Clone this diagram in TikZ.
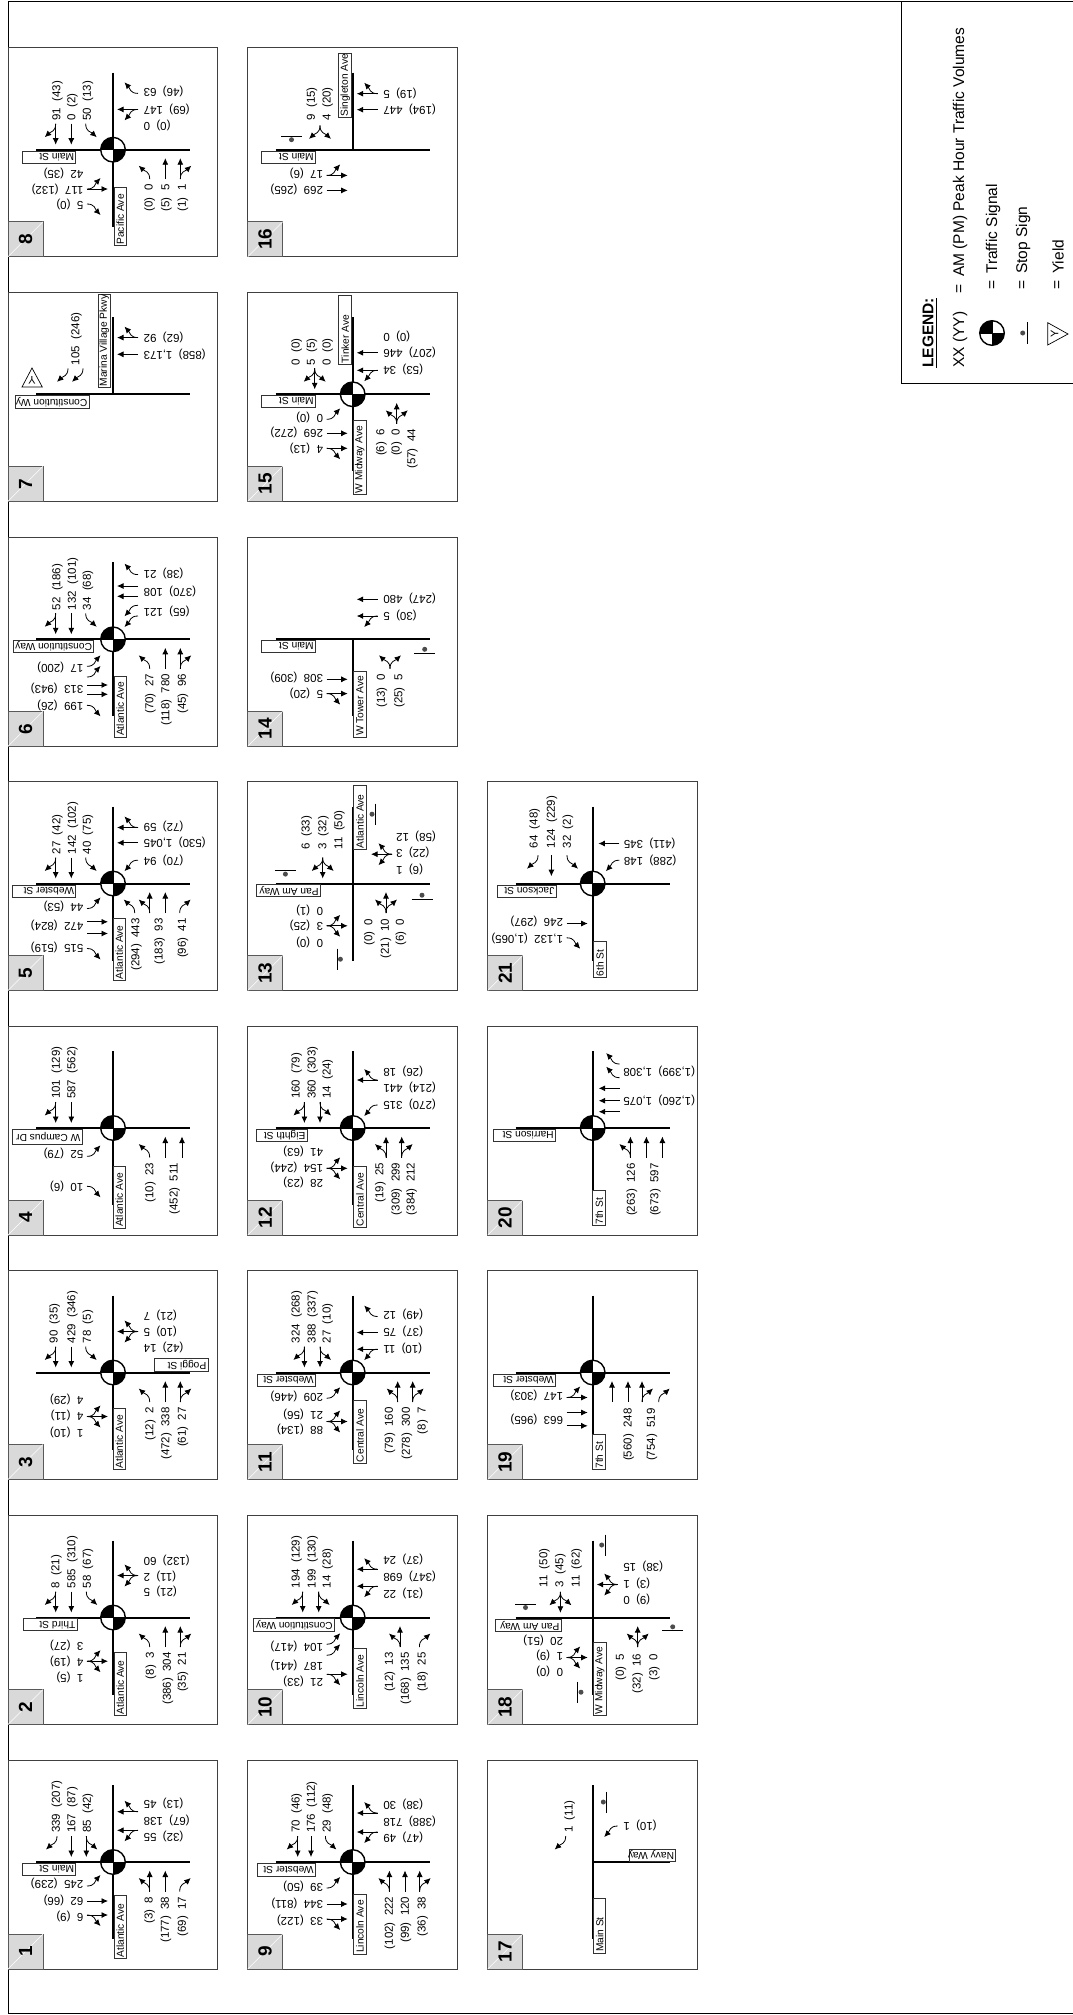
\documentclass[tikz,border=0pt]{standalone}
\usepackage{fontspec}
\setmainfont{Liberation Sans}
\usetikzlibrary{arrows.meta,calc}
\tikzset{
  pbox/.style={draw=black!75,line width=1pt,fill=white},
  tabbox/.style={draw=black!65,line width=1pt,fill=black!15},
  road/.style={line width=2pt,black},
  mvl/.style={line width=.8pt,-{Latex[length=6.5pt,width=6pt]}},
  vol/.style={inner sep=0pt,font=\fontsize{11.5}{12}\selectfont},
  streetbox/.style={draw=black!80,line width=.8pt,fill=white},
  streettext/.style={inner sep=0pt,font=\fontsize{10.2}{12}\selectfont},
  legtext/.style={inner sep=0pt,rotate=90,anchor=west,font=\fontsize{15.5}{17}\selectfont},
}
\def\mvT{\draw[mvl] (0,0) -- (21,0);}
\def\mvR{\draw[mvl] (0,0) .. controls (8,0) and (8,5) .. (13.5,11);}
\def\mvL{\draw[mvl] (0,0) .. controls (8,0) and (8,-5) .. (13.5,-11);}
\newcommand\lane[4]{\begin{scope}[shift={(#1,#2)},rotate=#3]\foreach \mvk in {#4}{\csname mv\mvk\endcsname}\end{scope}}
\newcommand\lanA[3][-26]{\lane{#2}{#1}{-90}{#3}}
\newcommand\lanB[3][25]{\lane{#1}{#2}{180}{#3}}
\newcommand\lanC[3][29.5]{\lane{#2}{#1}{90}{#3}}
\newcommand\lanD[3][-26]{\lane{#1}{#2}{0}{#3}}
\newcommand\labA[4][-29]{\node[vol,rotate=90,anchor=west] at (#2,#1) {#3~~(#4)};}
\newcommand\labB[4][30.5]{\node[vol,rotate=180,anchor=east] at (#1,#2) {(#4)~~#3};}
\newcommand\labC[4][34.5]{\node[vol,rotate=90,anchor=east] at (#2,#1) {(#4)~~#3};}
\newcommand\labD[4][-29.5]{\node[vol,rotate=180,anchor=west] at (#1,#2) {#3~~(#4)};}
% horizontal street tag (upside down), vertical street tag
\newcommand\stH[5]{\draw[streetbox] (#1,#3) rectangle (#2,#4);\node[streettext,rotate=180,anchor=west] at ($(#2,#3)!.5!(#2,#4)+(-1.5,0)$) {#5};}
\newcommand\stV[5]{\draw[streetbox] (#1,#3) rectangle (#2,#4);\node[streettext,rotate=90,anchor=west] at ($(#1,#4)!.5!(#2,#4)+(0,-1)$) {#5};}
\newcommand\roadH[2]{\draw[road] (#1,0) -- (#2,0);}
\newcommand\roadV[2]{\draw[road] (0,#1) -- (0,#2);}
\newcommand\crossroad{\roadH{-77}{77}\roadV{-77}{77}}
\newcommand\signal{%
  \fill[white] (0,0) circle (12.3);
  \fill[black] (0,0) -- (12.3,0) arc[start angle=0,end angle=90,radius=12.3] -- cycle;
  \fill[black] (0,0) -- (-12.3,0) arc[start angle=180,end angle=270,radius=12.3] -- cycle;
  \draw[white,line width=.4pt] (1.5,-3) -- (3.5,-9) -- (5.5,-3) -- (7.5,-9) -- (9.5,-4);
  \draw[white,line width=.4pt] (-1.5,3) -- (-3.5,9) -- (-5.5,3) -- (-7.5,9) -- (-9.5,4);
  \draw[black,line width=1.4pt] (0,0) circle (12.3);
  \draw[black,line width=1pt] (-12.3,0) -- (12.3,0) (0,-12.3) -- (0,12.3);}
\newcommand\stpH[3]{\draw[black,line width=1pt] (#1-10.5,#2) -- (#1+10.5,#2);\fill[black!70] (#1,#2+#3) circle (2.5);}
\newcommand\stpV[3]{\draw[black,line width=1pt] (#1,#2-10.5) -- (#1,#2+10.5);\fill[black!70] (#1+#3,#2) circle (2.5);}
\newcommand\pnl[4]{%
  \begin{scope}[shift={(#1,#2)}]
    \draw[pbox] (0,0) rectangle (209.5,209);
    \draw[tabbox] (0,174) rectangle (35,209);
    \draw[white,line width=.5pt] (0,209) -- (35,174);
    \node[inner sep=0pt,rotate=90,font=\bfseries\fontsize{19}{20}\selectfont] at (17.5,191.5) {#3};
    \begin{scope}[shift={(105,102)}]#4\end{scope}
  \end{scope}}
\begin{document}
\begin{tikzpicture}[x=1pt,y=-1pt]
\useasboundingbox (0,0) rectangle (1073,2015);
\fill[white] (0,0) rectangle (1073,2015);
% page frame
\draw[black,line width=1pt] (1074,1.2) -- (8,1.2) -- (8,2013) -- (1074,2013);
% legend
\draw[black,line width=1pt] (1074,2) -- (901.7,2) -- (901.7,383) -- (1074,383);
\node[legtext,font=\bfseries\fontsize{15.5}{17}\selectfont] (lg) at (928,368) {LEGEND:};
\draw[black,line width=1pt] (936,368) -- (936,298);
\node[legtext] (xx) at (960,368) {XX (YY)};
\node[legtext] (eq1) at (960,294) {=};
\node[legtext] (am) at (960,277) {AM (PM) Peak Hour Traffic Volumes};
\node[legtext] (eq2) at (993,290) {=};
\node[legtext] (ts) at (993,274) {Traffic Signal};
\node[legtext] (eq3) at (1023,290) {=};
\node[legtext] (ss) at (1023,274) {Stop Sign};
\node[legtext] (eq4) at (1058,290) {=};
\node[legtext] (yl) at (1058,274) {Yield};
\begin{scope}[shift={(992,333)}]\signal\end{scope}
\draw[black,line width=1pt] (1027,322) -- (1027,344);
\fill[black!70] (1022.7,333) circle (2.5);
\draw[black,line width=.7pt] (1047.7,322.7) -- (1047.7,345) -- (1068,334) -- cycle;
\node[inner sep=0pt,rotate=90,font=\fontsize{11}{12}\selectfont] at (1054.5,334) {Y};

% ---- column 1
\pnl{8}{1760}{1}{\crossroad\signal
 \labA{-56}{339}{207}\labA{-40.7}{167}{87}\labA{-25}{85}{42}
 \lanA{-56}{R}\lanA{-41.7}{T}\lanA{-26.7}{T,L}
 \labB{-58.3}{45}{13}\labB{-42}{138}{67}\labB{-25.3}{55}{32}
 \lanB{-50.3}{T,R}\lanB{-31.7}{T,L}
 \labC{36.7}{8}{3}\labC{53}{38}{177}\labC{70}{17}{69}
 \lanC{36.7}{T,L}\lanC{52.3}{T}\lanC{66.7}{R}
 \labD{21.7}{245}{239}\labD{38}{62}{66}\labD{54}{6}{9}
 \lanD{24}{L}\lanD{39}{T}\lanD{53}{T,R}
 \stH{-91}{-37.3}{1}{13}{Main St}\stV{1}{13.3}{33.3}{96.7}{Atlantic Ave}}
\pnl{8}{1515.5}{2}{\crossroad\signal
 \labA{-56.7}{8}{21}\labA{-40.7}{585}{310}\labA{-25}{58}{67}
 \lanA{-57.3}{T,R}\lanA{-41.7}{T}\lanA{-26.7}{L}
 \labB{-57.3}{60}{132}\labB{-41.3}{2}{11}\labB{-25.7}{5}{21}
 \lanB{-42}{L,T,R}
 \labC{38}{3}{8}\labC{55}{304}{386}\labC{70}{21}{35}
 \lanC{36.7}{L}\lanC{52.3}{T}\lanC{67.3}{T,R}
 \labD{27.7}{3}{27}\labD{43.7}{4}{19}\labD{60}{1}{5}
 \lanD{43.7}{L,T,R}
 \stH{-90}{-36}{1}{13.3}{Third St}\stV{1}{13.3}{35.3}{97.7}{Atlantic Ave}}
\pnl{8}{1270.5}{3}{\crossroad\signal
 \labA{-58.3}{90}{35}\labA{-40.7}{429}{346}\labA{-25}{78}{5}
 \lanA{-57.3}{T,R}\lanA{-41.7}{T}\lanA{-27.3}{L}
 \labB{-56.7}{7}{21}\labB{-41}{5}{10}\labB{-25.3}{14}{42}
 \lanB{-41}{L,T,R}
 \labC{37.3}{2}{12}\labC{53.3}{338}{472}\labC{70}{27}{61}
 \lanC{36.7}{L}\lanC{52.3}{T}\lanC{67.3}{T,R}
 \labD{27.3}{4}{29}\labD{43.3}{4}{11}\labD{60}{1}{10}
 \lanD{44}{L,T,R}
 \stH{41}{95}{-14.3}{-1}{Poggi St}\stV{0}{12.3}{35.7}{97.3}{Atlantic Ave}}
\pnl{8}{1026}{4}{\crossroad\signal
 \labA{-56}{101}{129}\labA{-40.7}{587}{562}
 \lanA{-57.3}{T,R}\lanA{-41.7}{T}
 \labC{37.3}{23}{10}\labC{61.7}{511}{452}
 \lanC{36.7}{L}\lanC{52.3}{T}\lanC{69}{T}
 \labD{25}{52}{79}\labD{58.3}{10}{6}
 \lanD{28.3}{L}\lanD{58.3}{R}
 \stH{-100.7}{-31}{1}{16.7}{W Campus Dr}\stV{0}{12.3}{38.3}{100}{Atlantic Ave}}
\pnl{8}{781.5}{5}{\crossroad\signal
 \labA{-55.7}{27}{42}\labA{-40}{142}{102}\labA{-25}{40}{75}
 \lanA{-57.3}{T,R}\lanA{-41.7}{T}\lanA{-27.3}{L}
 \labB{-57.3}{59}{72}\labB{-40.7}{1,045}{530}\labB{-23.3}{94}{70}
 \lanB{-56}{T,R}\lanB{-40.7}{T}\lanB{-23.3}{L}
 \labC{23.3}{443}{294}\labC{46.7}{93}{183}\labC{70}{41}{96}
 \lanC{21.7}{L}\lanC{36.7}{T,L}\lanC{52.3}{T}\lanC{66.7}{R}
 \labD{23.3}{44}{53}\labD{42.3}{472}{824}\labD{64}{515}{519}
 \lanD{25}{L}\lanD{38.3}{T}\lanD{50}{T}\lanD{65}{R}
 \stH{-100.7}{-37.3}{1.7}{14}{Webster St}\stV{0}{12.3}{35}{96.7}{Atlantic Ave}}
\pnl{8}{537.3}{6}{\crossroad\signal
 \labA{-55.7}{52}{186}\labA{-40}{132}{101}\labA{-25}{34}{68}
 \lanA{-57.3}{T,R}\lanA{-41.7}{T}\lanA{-27.3}{L}
 \labB{-66.3}{21}{38}\labB{-48}{108}{370}\labB{-28}{121}{65}
 \lanB{-64.7}{R}\lanB{-53.3}{T}\lanB{-43}{T}\lanB{-34}{L}\lanB{-23.3}{L}
 \labC{37.3}{27}{70}\labC{53.3}{780}{118}\labC{70}{96}{45}
 \lanC{36.7}{L}\lanC{52.3}{T}\lanC{67.3}{T,R}
 \labD{28.3}{17}{200}\labD{49.3}{313}{943}\labD{66}{199}{26}
 \lanD{27}{L}\lanD{37.7}{L}\lanD{45.7}{T}\lanD{55}{T}\lanD{66}{R}
 \stH{-99.3}{-19.3}{1}{13.3}{Constitution Way}\stV{1}{13.3}{36.7}{97.7}{Atlantic Ave}}
\pnl{8}{292.3}{7}{\roadH{-77}{77}\roadV{-77}{0}
 \labA{-36.7}{105}{246}
 \lanA{-45}{R}\lanA{-30}{R}
 \labB{-56.7}{92}{62}\labB{-40}{1,173}{858}
 \lanB{-56.7}{T,R}\lanB{-40}{T}
 \stH{-97.3}{-24}{1}{14.3}{Constitution Wy}\stV{-15}{-2.3}{-99.7}{-6.7}{Marina Village Pkwy}
 \draw[black,line width=.7pt] (-81,-26.3) -- (-91,-7.3) -- (-70.7,-7.3) -- cycle;
 \node[inner sep=0pt,rotate=180,font=\fontsize{11}{12}\selectfont] at (-81,-14) {Y};}
\pnl{8}{47.7}{8}{\crossroad\signal
 \labA{-55.7}{91}{43}\labA{-40.7}{0}{2}\labA{-25}{50}{13}
 \lanA{-57.3}{T,R}\lanA{-41.7}{T}\lanA{-27.3}{L}
 \labB{-58}{63}{46}\labB{-40.3}{147}{69}\labB{-24}{0}{0}
 \lanB{-56.3}{R}\lanB{-40.3}{T,L}
 \labC{36.7}{0}{0}\labC{53.3}{5}{5}\labC{70}{1}{1}
 \lanC{36.7}{L}\lanC{52.3}{T}\lanC{67.3}{T,R}
 \labD{23.7}{42}{35}\labD{39.3}{117}{132}\labD{54.3}{5}{0}
 \lanD{39.3}{T,L}\lanD{54.3}{R}
 \stH{-91}{-37.3}{1.3}{13.7}{Main St}\stV{1}{13.3}{38}{96}{Pacific Ave}}

% ---- column 2
\pnl{247.7}{1760}{9}{\crossroad\signal
 \labA{-56}{70}{46}\labA{-40.7}{176}{112}\labA{-25}{29}{48}
 \lanA{-55}{T,R}\lanA{-41.7}{T}\lanA{-27.3}{L}
 \labB{-58}{30}{38}\labB{-41}{718}{388}\labB{-25}{49}{47}
 \lanB{-49}{T,R}\lanB{-30}{T,L}
 \labC{37.3}{222}{102}\labC{53.3}{120}{99}\labC{70}{38}{36}
 \lanC{36.7}{T,L}\lanC{52.3}{T}\lanC{67}{T,R}
 \labD{24}{39}{50}\labD{41}{344}{811}\labD{58}{33}{122}
 \lanD{26}{L}\lanD{42}{T}\lanD{57}{T,R}
 \stH{-95}{-37.3}{1.7}{14}{Webster St}\stV{1}{13.3}{32}{92}{Lincoln Ave}}
\pnl{247.7}{1515.5}{10}{\crossroad\signal
 \labA{-56}{194}{129}\labA{-40}{199}{130}\labA{-25}{14}{28}
 \lanA{-50}{T,R}\lanA{-34}{T,L}
 \labB{-58}{24}{37}\labB{-40.7}{698}{347}\labB{-24}{22}{31}
 \lanB{-48.3}{T,R}\lanB{-31.3}{T,L}
 \labC{37.3}{13}{12}\labC{53.3}{135}{168}\labC{70}{25}{18}
 \lanC{47.3}{T,L}\lanC{66.7}{R}
 \labD{29.3}{104}{417}\labD{47.7}{187}{441}\labD{64.3}{21}{33}
 \lanD{26.7}{L}\lanD{37.7}{L}\lanD{56.7}{T,R}
 \stH{-99.3}{-18.3}{1}{14.3}{Constitution Way}\stV{1}{13.3}{31}{91}{Lincoln Ave}}
\pnl{247.7}{1270.5}{11}{\crossroad\signal
 \labA{-56}{324}{268}\labA{-40}{388}{337}\labA{-25}{27}{10}
 \lanA{-48.3}{T,R}\lanA{-32.7}{T,L}
 \labB{-57.7}{12}{49}\labB{-41}{75}{37}\labB{-24.3}{11}{10}
 \lanB{-56}{R}\lanB{-40}{T}\lanB{-23.3}{T,L}
 \labC{37.3}{160}{79}\labC{54.3}{300}{278}\labC{70}{7}{8}
 \lanC{45}{T,L}\lanC{60}{T,R}
 \labD{24}{209}{446}\labD{41.7}{21}{56}\labD{57.3}{88}{134}
 \lanD{25.7}{L}\lanD{49}{L,T,R}
 \stH{-95}{-37.3}{1.7}{14}{Webster St}\stV{1}{13.3}{28.3}{90.7}{Central Ave}}
\pnl{247.7}{1026}{12}{\crossroad\signal
 \labA{-56}{160}{79}\labA{-40}{360}{303}\labA{-25}{14}{24}
 \lanA{-48.3}{T,R}\lanA{-32.7}{T,L}
 \labB{-57}{18}{26}\labB{-40.7}{441}{214}\labB{-24}{315}{270}
 \lanB{-48}{T,R}\lanB{-23}{L}
 \labC{27.7}{25}{19}\labC{44}{299}{309}\labC{59}{212}{384}
 \lanC{33.3}{T,L}\lanC{49}{T,R}
 \labD{23.7}{41}{63}\labD{39.3}{154}{244}\labD{54.7}{28}{23}
 \lanD{40.3}{L,T,R}
 \stH{-96}{-45.7}{1}{13.7}{Eighth St}\stV{1}{13.3}{38.7}{99.3}{Central Ave}}
\pnl{247.7}{781.5}{13}{\crossroad
 \labA[-34]{-46}{6}{33}\labA[-34]{-29.3}{3}{32}\labA[-34]{-13.3}{11}{50}
 \lanA{-30}{L,T,R}
 \labB[43.3]{-46.7}{12}{58}\labB[43.3]{-31}{3}{22}\labB[43.3]{-14.3}{1}{6}
 \lanB[39.3]{-29.3}{L,T,R}
 \labC[35]{16.7}{0}{0}\labC[35]{33.3}{10}{21}\labC[35]{48.3}{0}{6}
 \lanC{33.3}{L,T,R}
 \labD{26.7}{0}{1}\labD{42.3}{3}{25}\labD{59}{0}{0}
 \lanD{42.3}{L,T,R}
 \stpH{-67.3}{-12.7}{3.3}\stpV{22.7}{-69.3}{-3.4}\stpH{69.3}{15.7}{-4}\stpV{-15.7}{75.7}{3.4}
 \stH{-96}{-32.3}{1.3}{13.3}{Pan Am Way}\stV{1}{13.3}{-98.3}{-34.3}{Atlantic Ave}}
\pnl{247.7}{537.3}{14}{\roadH{-77}{77}\roadV{0}{77}
 \labB{-40.7}{480}{247}\labB{-24}{5}{30}
 \lanB{-40}{T}\lanB{-23.3}{T,L}
 \labC[35]{29.3}{0}{13}\labC[35]{46.7}{5}{25}
 \lanC{37.3}{L,R}
 \labD{38.3}{308}{309}\labD{54.3}{5}{20}
 \lanD{40}{T}\lanD{54.3}{T,R}
 \stpH{72}{13.7}{-3.7}
 \stH{-91}{-37.3}{1}{13.3}{Main St}\stV{1}{13.3}{31.7}{97.7}{W Tower Ave}}
\pnl{247.7}{292.3}{15}{\crossroad\signal
 \labA{-56}{0}{0}\labA{-40.7}{5}{5}\labA{-25}{0}{0}
 \lanA{-38}{L,T,R}
 \labB{-58}{0}{0}\labB{-41.5}{446}{207}\labB{-25}{34}{53}
 \lanB{-41.5}{T}\lanB{-24}{T,L}
 \labC{28.7}{6}{6}\labC{44}{0}{0}\labC{59.7}{44}{57}
 \lanC{44}{L,T,R}
 \labD{23}{0}{0}\labD{38.5}{269}{272}\labD{54}{4}{13}
 \lanD{25}{L}\lanD{39}{T}\lanD{54}{T,R}
 \stH{-91}{-37.3}{1}{13.3}{Main St}\stV{-14}{-1}{-99}{-30}{Tinker Ave}\stV{1}{13.3}{26}{100}{W Midway Ave}}
\pnl{247.7}{47.7}{16}{\roadH{-77}{77}\roadV{-77}{0}
 \labA{-40.7}{9}{15}\labA{-25}{4}{20}
 \lanA[-24.3]{-32.7}{L,R}
 \labB{-56.7}{5}{19}\labB{-40}{447}{194}
 \lanB{-56}{T,R}\lanB{-40}{T}
 \labD{24}{17}{6}\labD{39.7}{269}{265}
 \lanD{25.7}{T,L}\lanD{40.7}{T}
 \stpH{-61.2}{-13.3}{3.3}
 \stH{-91}{-37.3}{1.3}{14}{Main St}\stV{-14}{-1}{-96.7}{-32}{Singleton Ave}}

% ---- column 3
\pnl{487.7}{1760}{17}{\roadH{0}{77}\roadV{-77}{77}
 \labA{-23}{1}{11}\lanA{-27}{R}
 \labB{-37}{1}{10}\lanB{-36}{L}
 \stpV{14}{-60}{-3.4}
 \stH{37}{83}{-13}{-1}{Navy Way}\stV{1}{13}{36}{91}{Main St}}
\pnl{487.7}{1515.5}{18}{\crossroad
 \labA[-30]{-48.3}{11}{50}\labA[-30]{-32.3}{3}{45}\labA[-30]{-16}{11}{62}
 \lanA[-25.7]{-32.3}{L,T,R}
 \labB{-50.7}{15}{38}\labB{-34}{1}{3}\labB{-18}{0}{9}
 \lanB{-33}{L,T,R}
 \labC[36]{28.3}{5}{0}\labC[36]{45}{16}{32}\labC[36]{61.7}{0}{3}
 \lanC{45}{L,T,R}
 \labD{22.7}{20}{51}\labD{38}{1}{9}\labD{54.3}{0}{0}
 \lanD{40}{L,T,R}
 \stpH{-67.2}{-13.3}{3.3}\stpV{12.3}{-72.5}{-3.3}\stpH{80}{13.3}{-4}\stpV{-15}{74.7}{3.3}
 \stH{-97.3}{-31.7}{1.7}{14.3}{Pan Am Way}\stV{1}{13.3}{25.3}{97.7}{W Midway Ave}}
\pnl{487.7}{1270.5}{19}{\crossroad\signal
 \labD{23.3}{147}{303}\labD{47.3}{663}{965}
 \lanD{25}{T,L}\lanD{40}{T}\lanD{53.3}{T}
 \labC[35.7]{36}{248}{560}\labC[35.7]{59.3}{519}{754}
 \lanC{19.3}{T}\lanC{35.3}{T}\lanC{49.3}{T,R}\lanC{66}{R}
 \stH{-99}{-37.3}{1.7}{14}{Webster St}\stV{0}{13}{61.7}{97.3}{7th St}}
\pnl{487.7}{1026}{20}{\crossroad\signal
 \labB{-57}{1,308}{1,399}\labB{-28}{1,075}{1,260}
 \lanB[27]{-64}{R}\lanB[27]{-50.3}{R}\lanB[27]{-39.7}{T}\lanB[27]{-27.3}{T}\lanB[27]{-16.3}{T}
 \labC[35.3]{39.3}{126}{263}\labC[35.3]{62.7}{597}{673}
 \lanC{37.7}{T,L}\lanC{53.7}{T}\lanC{69.7}{T}
 \stH{-99}{-37.3}{1.3}{13.7}{Harrison St}\stV{0}{13}{62}{97.7}{7th St}}
\pnl{487.7}{781.5}{21}{\crossroad\signal
 \labA[-35]{-58}{64}{48}\labA[-35]{-40.7}{124}{229}\labA[-35]{-24.7}{32}{2}
 \lanA[-28.3]{-54.7}{R}\lanA[-28.3]{-41.3}{T}\lanA[-28.3]{-25.7}{L}
 \labB[31]{-40}{345}{411}\labB[31]{-23.3}{148}{288}
 \lanB[26.7]{-40}{T}\lanB[26.7]{-23.3}{L}
 \labD{38.3}{246}{297}\labD{55}{1,132}{1,065}
 \lanD{40}{T}\lanD{54.3}{R}
 \stH{-95.7}{-36.7}{1.7}{14}{Jackson St}\stV{1}{13.7}{58.3}{94}{6th St}}
\end{tikzpicture}
\end{document}
